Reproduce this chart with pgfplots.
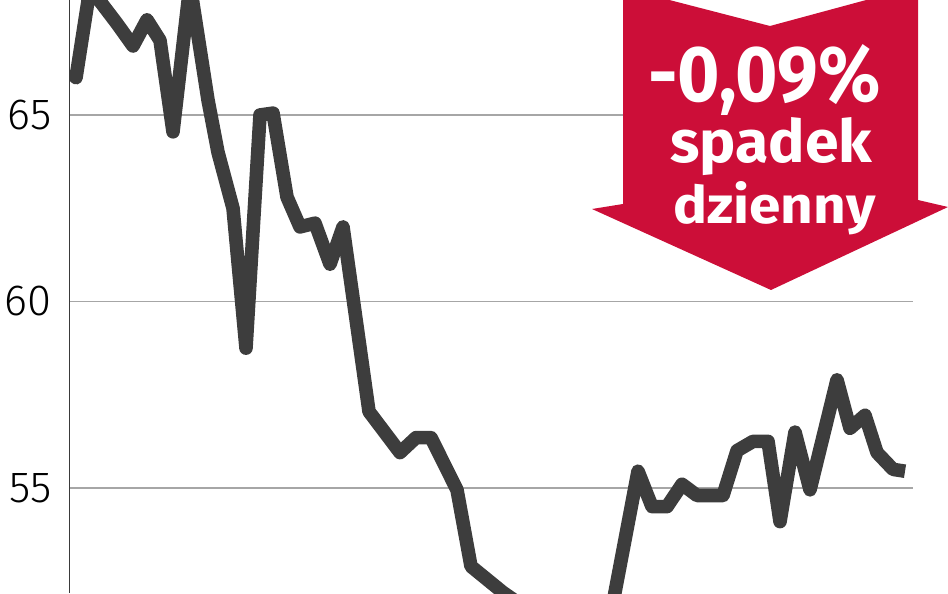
\documentclass[border=0pt]{standalone}
\usepackage{fontspec}
\setmainfont{Fira Sans}
\newfontfamily\tickfont{Fira Sans Light}
\usepackage{graphicx}
\usepackage{pgfplots}
\pgfplotsset{compat=1.18}
\definecolor{linegray}{HTML}{3D3D3D}
\definecolor{gridgray}{HTML}{A6A6A6}
\definecolor{axisgray}{HTML}{3A3A3A}
\definecolor{arrowred}{RGB}{204,14,56}

\begin{document}
\begin{tikzpicture}
% 1 px of the reference = 0.25mm
\begin{axis}[
    at={(17.5mm,0mm)}, anchor=south west,
    scale only axis, width=210.75mm, height=148.25mm,
    xmin=70, xmax=913, ymin=52.185, ymax=68.083,
    axis line style={draw=none},
    xtick=\empty, ytick={55,60,65},
    major tick length=0pt,
    ymajorgrids, grid style={gridgray, line width=0.4mm},
    yticklabel style={anchor=east, inner sep=0pt, xshift=-4.5mm,
        font=\tickfont\fontsize{31}{31}\selectfont},
    /pgf/number format/assume math mode=true,
]
\addplot[linegray, line width=3.4mm, line join=round] coordinates {
    (70,66.2) (76,66.0) (90,68.4) (117,67.45) (133,66.85) (147,67.55)
    (160,67.0) (173,64.55) (190,68.5) (208,65.4) (218,64.0) (233,62.5)
    (246,58.75) (260,65.0) (273,65.05) (287,62.8) (300,62.0) (315,62.1)
    (330,61.0) (343,62.0) (369,57.05) (400,55.95) (416,56.35) (431,56.35)
    (457,54.95) (471,52.9) (503,52.2) (530,51.7) (565,51.6) (590,51.95)
    (610,51.5) (638,55.45) (652,54.5) (667,54.5) (682,55.1) (697,54.8)
    (723,54.8) (737,56.0) (753,56.25) (768,56.25) (780,54.1) (795,56.5)
    (810,54.95) (837,57.9) (850,56.6) (865,56.95) (877,55.95) (893,55.5)
    (905,55.45)
};
\end{axis}
% overlay in pixel units, y downwards from the top edge
\begin{scope}[x=0.25mm, y=-0.25mm, shift={(0mm,148.25mm)}]
    \draw[axisgray, line width=0.35mm] (69.5,0) -- (69.5,593);
    \begin{scope}
        \clip (0,0) rectangle (948,593);
        \fill[arrowred] (623,-12) -- (770,26) -- (918,-14) -- (918,200)
            -- (948,207) -- (771,290) -- (592,209) -- (623,204) -- cycle;
    \end{scope}
    \node[anchor=base west, inner sep=0pt, text=white] at (648,102)
        {\resizebox{58mm}{14.25mm}{\bfseries -0,09\%}};
    \node[anchor=base west, inner sep=0pt, text=white] at (670,163)
        {\resizebox{50.5mm}{11.25mm}{\bfseries spadek}};
    \node[anchor=base west, inner sep=0pt, text=white] at (673,224)
        {\resizebox{50.5mm}{10.5mm}{\bfseries dzienny}};
    \pgfresetboundingbox
    \path[use as bounding box] (0,0) rectangle (948,593);
\end{scope}
\end{tikzpicture}
\end{document}
